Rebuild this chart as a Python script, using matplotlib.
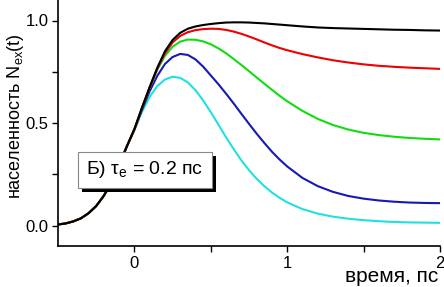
import matplotlib
matplotlib.use("Agg")
import matplotlib.pyplot as plt
from matplotlib.patches import Rectangle
from matplotlib.ticker import FixedLocator, FixedFormatter

plt.rcParams['font.family'] = ['Liberation Sans', 'DejaVu Sans']
plt.rcParams['mathtext.fontset'] = 'custom'
plt.rcParams['mathtext.rm'] = 'Liberation Sans'
plt.rcParams['mathtext.it'] = 'Liberation Sans:italic'

# time, ps
t = [-0.5, -0.45, -0.4, -0.35, -0.3, -0.25, -0.2, -0.15, -0.1, -0.05,
     0.0, 0.05, 0.1, 0.15, 0.2, 0.25, 0.3, 0.35, 0.4, 0.45,
     0.5, 0.55, 0.6, 0.65, 0.7, 0.75, 0.8, 0.85, 0.9, 0.95,
     1.0, 1.1, 1.2, 1.3, 1.4, 1.5, 1.6, 1.7, 1.8, 1.9, 2.0]

rise = [0.005, 0.01, 0.02, 0.035, 0.06, 0.095, 0.145, 0.21, 0.295, 0.385]

n_black = rise + [0.47, 0.575, 0.675, 0.77, 0.85, 0.905, 0.94, 0.96, 0.971, 0.978,
                  0.983, 0.987, 0.99, 0.991, 0.991, 0.99, 0.988, 0.986, 0.983, 0.98,
                  0.977, 0.971, 0.966, 0.963, 0.961, 0.959, 0.957, 0.955, 0.954, 0.952, 0.951]
n_red = rise + [0.47, 0.575, 0.675, 0.765, 0.84, 0.893, 0.925, 0.943, 0.953, 0.958,
                0.96, 0.959, 0.954, 0.946, 0.935, 0.922, 0.908, 0.893, 0.879, 0.866,
                0.855, 0.836, 0.82, 0.806, 0.795, 0.786, 0.779, 0.774, 0.77, 0.767, 0.764]
n_green = rise + [0.47, 0.573, 0.672, 0.76, 0.828, 0.872, 0.897, 0.907, 0.906, 0.898,
                  0.884, 0.864, 0.84, 0.812, 0.783, 0.753, 0.722, 0.692, 0.662, 0.633,
                  0.606, 0.559, 0.52, 0.49, 0.468, 0.452, 0.441, 0.433, 0.427, 0.423, 0.42]
n_blue = rise + [0.468, 0.565, 0.655, 0.73, 0.788, 0.822, 0.837, 0.832, 0.81, 0.775,
                 0.732, 0.689, 0.643, 0.595, 0.545, 0.496, 0.448, 0.403, 0.36, 0.322,
                 0.288, 0.232, 0.192, 0.164, 0.144, 0.131, 0.122, 0.116, 0.112, 0.11, 0.109]
n_cyan = rise + [0.465, 0.555, 0.628, 0.68, 0.712, 0.726, 0.72, 0.698, 0.66, 0.61,
                 0.553, 0.492, 0.43, 0.372, 0.318, 0.27, 0.228, 0.192, 0.161, 0.135,
                 0.113, 0.08, 0.058, 0.043, 0.033, 0.026, 0.021, 0.017, 0.015, 0.014, 0.013]

series = [(n_cyan, '#22e0e0'), (n_blue, '#1818b8'), (n_green, '#10dd10'),
          (n_red, '#ee0000'), (n_black, '#000000')]

x_ticks = [0, 0.5, 1, 1.5, 2]
x_labels = ['0', '', '1', '', '2']
y_ticks = [0.0, 0.25, 0.5, 0.75, 1.0]
y_labels = ['0.0', '', '0.5', '', '1.0']

fig = plt.figure(figsize=(4.44, 2.87), dpi=100)
ax = fig.add_axes([58/444, 41/287, (440-58)/444, 246/287])
for y, c in series:
    ax.plot(t, y, color=c, lw=1.5, solid_capstyle='round', solid_joinstyle='round')

ax.set_xlim(-0.5, 2.0)
ax.set_ylim(-0.1, 1.1)
ax.xaxis.set_major_locator(FixedLocator(x_ticks))
ax.xaxis.set_major_formatter(FixedFormatter(x_labels))
ax.yaxis.set_major_locator(FixedLocator(y_ticks))
ax.yaxis.set_major_formatter(FixedFormatter(y_labels))
ax.tick_params(direction='out', length=4, width=1, labelsize=12, pad=3)
for s in ['top', 'right']:
    ax.spines[s].set_visible(False)
for s in ['left', 'bottom']:
    ax.spines[s].set_linewidth(1.2)

ax.set_ylabel('населенность N$\\mathregular{_{ex}}$(t)', fontsize=13)
ax.yaxis.set_label_coords(-0.083, 0.53)
fig.text(438/444, 1 - 282/287, 'время, пс', ha='right', va='baseline', fontsize=15)

# label box with shadow
fig.patches.append(Rectangle((82/444, 1 - 192/287), 134/444, 36/287,
                             transform=fig.transFigure, facecolor='black',
                             edgecolor='none', zorder=5))
fig.patches.append(Rectangle((78/444, 1 - 188/287), 134/444, 36/287,
                             transform=fig.transFigure, facecolor='white',
                             edgecolor='#888888', lw=0.8, zorder=6))
fig.text(145/444, 1 - 170/287, 'Б) τ$\\mathregular{_e}$ = 0.2 пс', ha='center',
         va='center', fontsize=14, zorder=7)

fig.savefig('out.png', dpi=100)
